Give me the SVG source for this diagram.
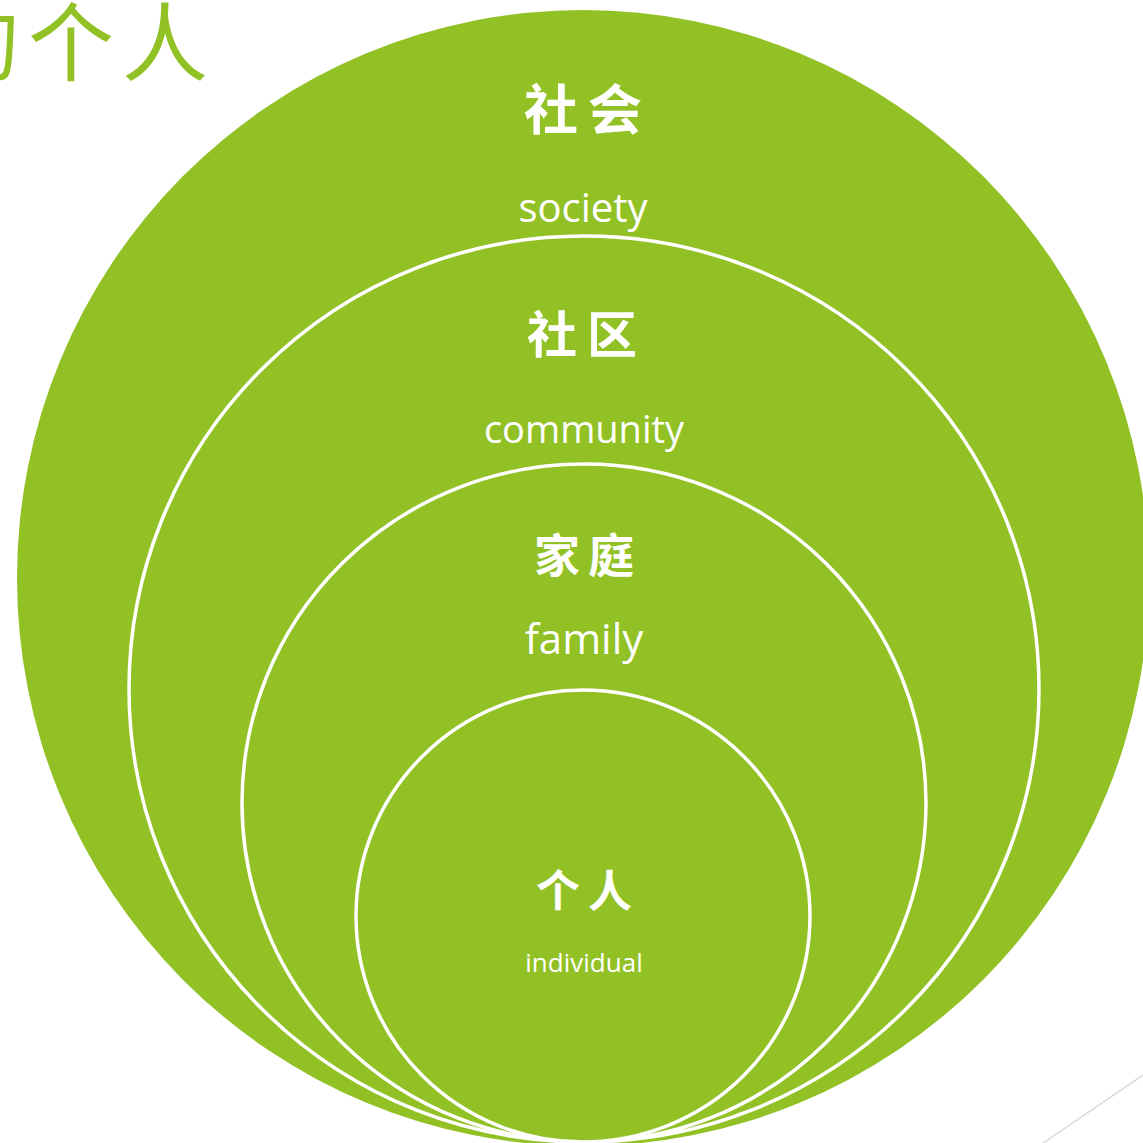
<svg xmlns="http://www.w3.org/2000/svg" width="1143" height="1143" viewBox="0 0 1143 1143">
  <style>
    .ring { fill: #92c125; stroke: #ffffff; stroke-width: 3.5; }
    .outer { fill: #92c125; stroke: none; }
    .zh { font-family: "Noto Sans CJK SC", "Noto Sans CJK JP", sans-serif; fill: #ffffff; text-anchor: middle; font-weight: 700; }
    .en { font-family: "Open Sans", "Liberation Sans", sans-serif; fill: #ffffff; text-anchor: middle; }
    .title { font-family: "Noto Sans CJK SC", "Noto Sans CJK JP", sans-serif; fill: #92c125; text-anchor: middle; font-weight: 400; font-size: 86px; }
  </style>
  <rect width="1143" height="1143" fill="#ffffff"/>
  <g id="title">
    <text class="title" x="-23 71 165" y="75">的个人</text>
  </g>
  <g id="society">
    <ellipse class="outer" cx="583" cy="578" rx="566" ry="568"/>
    <text class="zh" x="588" y="130" font-size="54" letter-spacing="10">社会</text>
    <text class="en" x="583" y="222" font-size="40">society</text>
  </g>
  <g id="community">
    <ellipse class="ring" cx="584" cy="689" rx="455" ry="453"/>
    <text class="zh" x="587" y="353" font-size="50" letter-spacing="10">社区</text>
    <text class="en" x="584" y="443" font-size="38">community</text>
  </g>
  <g id="family">
    <ellipse class="ring" cx="584" cy="803" rx="342" ry="339"/>
    <text class="zh" x="588" y="572" font-size="46" letter-spacing="8">家庭</text>
    <text class="en" x="584" y="654" font-size="42">family</text>
  </g>
  <g id="individual">
    <ellipse class="ring" cx="583" cy="916" rx="227" ry="226"/>
    <text class="zh" x="588" y="907" font-size="44" letter-spacing="8">个人</text>
    <text class="en" x="584" y="972" font-size="26">individual</text>
  </g>
  <g id="connectors">
    <line x1="1043" y1="1143" x2="1143" y2="1075" stroke="#d9d9d9" stroke-width="1.5"/>
  </g>
</svg>
